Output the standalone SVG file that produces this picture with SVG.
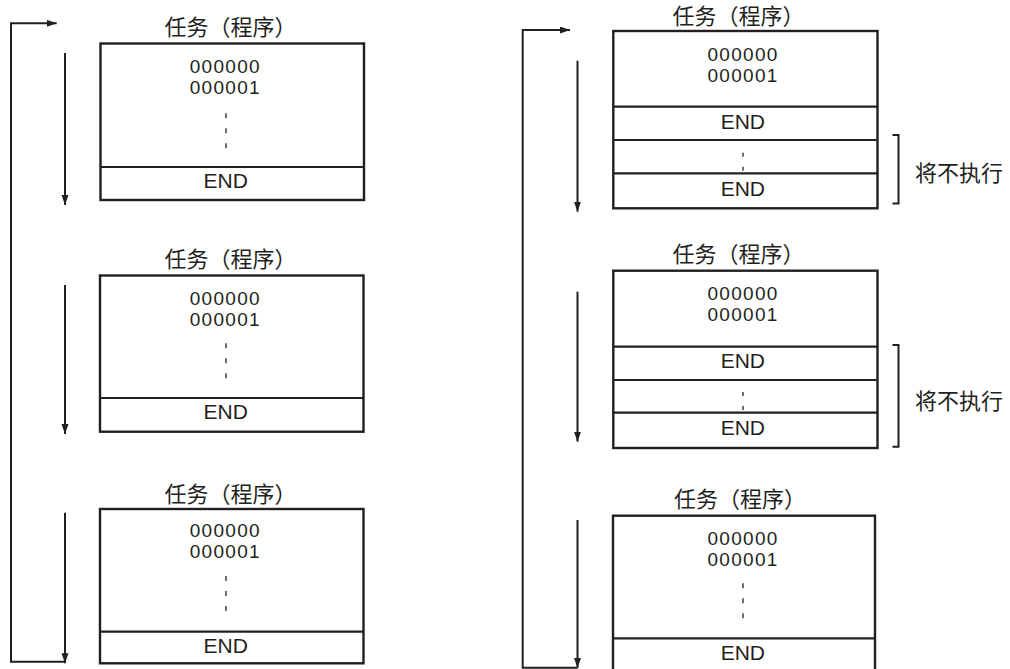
<svg xmlns="http://www.w3.org/2000/svg" width="1010" height="669" viewBox="0 0 1010 669">
  <style>
    .box { fill: #ffffff; stroke: #231f20; stroke-width: 2.4; }
    .div { stroke: #231f20; stroke-width: 2.2; fill: none; }
    .dots { stroke: #231f20; stroke-width: 1.3; stroke-dasharray: 5 10; fill: none; }
    .dots2 { stroke: #231f20; stroke-width: 1.3; stroke-dasharray: 4 10; fill: none; }
    .num { font-family: "Liberation Sans", Arial, sans-serif; font-size: 21px; fill: #231f20; text-anchor: middle; }
    .addr { font-family: "Liberation Sans", Arial, sans-serif; font-size: 19px; letter-spacing: 1.3px; fill: #231f20; text-anchor: middle; }
    .cjk { font-family: "Noto Sans CJK SC", "Noto Sans", sans-serif; font-size: 22px; fill: #231f20; }
    .title { text-anchor: middle; }
    .conn { stroke: #231f20; stroke-width: 2; fill: none; }
    .brk { stroke: #231f20; stroke-width: 2; fill: none; }
  </style>
  <defs>
    <marker id="arr" markerUnits="userSpaceOnUse" markerWidth="11" markerHeight="8" refX="10" refY="3.5" orient="auto">
      <path d="M0,0 L10,3.5 L0,7 z" fill="#231f20"/>
    </marker>
  </defs>

  <g id="connectors">
    <polyline class="conn" points="65,661.7 11,661.7 11,23.3 56.7,23.3" marker-end="url(#arr)"/>
    <line class="conn" x1="65" y1="53" x2="65" y2="205" marker-end="url(#arr)"/>
    <line class="conn" x1="65" y1="285" x2="65" y2="434" marker-end="url(#arr)"/>
    <line class="conn" x1="65" y1="512.7" x2="65" y2="663.3" marker-end="url(#arr)"/>
    <polyline class="conn" points="577.5,667.7 522.7,667.7 522.7,30 570,30" marker-end="url(#arr)"/>
    <line class="conn" x1="577.5" y1="60.7" x2="577.5" y2="211.7" marker-end="url(#arr)"/>
    <line class="conn" x1="577.5" y1="291.7" x2="577.5" y2="441.7" marker-end="url(#arr)"/>
    <line class="conn" x1="577.5" y1="520" x2="577.5" y2="668" marker-end="url(#arr)"/>
  </g>

  <g id="taskL1">
    <text class="cjk title" x="230.5" y="35">任务（程序）</text>
    <rect class="box" x="100.5" y="43.5" width="263.5" height="156.5"/>
    <text class="addr" x="225.3" y="72.5">000000</text>
    <text class="addr" x="225.3" y="94">000001</text>
    <line class="dots" x1="226" y1="113.3" x2="226" y2="148.3"/>
    <line class="div" x1="100.5" y1="167" x2="364" y2="167"/>
    <text class="num" x="225.7" y="188.3">END</text>
  </g>

  <g id="taskL2">
    <text class="cjk title" x="230.5" y="267">任务（程序）</text>
    <rect class="box" x="100" y="275.5" width="263.5" height="156.2"/>
    <text class="addr" x="225.3" y="304.5">000000</text>
    <text class="addr" x="225.3" y="326">000001</text>
    <line class="dots" x1="226" y1="343.3" x2="226" y2="378.3"/>
    <line class="div" x1="100" y1="398" x2="363.5" y2="398"/>
    <text class="num" x="225.7" y="418.5">END</text>
  </g>

  <g id="taskL3">
    <text class="cjk title" x="230.5" y="501.5">任务（程序）</text>
    <rect class="box" x="100" y="509" width="263.5" height="154.3"/>
    <text class="addr" x="225.3" y="536.5">000000</text>
    <text class="addr" x="225.3" y="558">000001</text>
    <line class="dots" x1="226" y1="576" x2="226" y2="611"/>
    <line class="div" x1="100" y1="631.7" x2="363.5" y2="631.7"/>
    <text class="num" x="225.7" y="652.5">END</text>
  </g>

  <g id="taskR1">
    <text class="cjk title" x="738.5" y="24">任务（程序）</text>
    <rect class="box" x="613.3" y="31" width="264.2" height="177.3"/>
    <text class="addr" x="743.1" y="60.5">000000</text>
    <text class="addr" x="743.1" y="82">000001</text>
    <line class="div" x1="613.3" y1="106.7" x2="877.5" y2="106.7"/>
    <text class="num" x="742.8" y="128.5">END</text>
    <line class="div" x1="613.3" y1="140" x2="877.5" y2="140"/>
    <line class="dots2" x1="743" y1="152.7" x2="743" y2="170.7"/>
    <line class="div" x1="613.3" y1="173.3" x2="877.5" y2="173.3"/>
    <text class="num" x="742.8" y="195.5">END</text>
  </g>
  <g id="noteR1">
    <polyline class="brk" points="892.5,135 898.5,135 898.5,203.5 892.5,203.5"/>
    <text class="cjk" x="915" y="181">将不执行</text>
  </g>

  <g id="taskR2">
    <text class="cjk title" x="738.5" y="262">任务（程序）</text>
    <rect class="box" x="613.3" y="270.7" width="264.2" height="177.3"/>
    <text class="addr" x="743.1" y="299.7">000000</text>
    <text class="addr" x="743.1" y="321.2">000001</text>
    <line class="div" x1="613.3" y1="346.7" x2="877.5" y2="346.7"/>
    <text class="num" x="742.8" y="368">END</text>
    <line class="div" x1="613.3" y1="380" x2="877.5" y2="380"/>
    <line class="dots2" x1="743" y1="392" x2="743" y2="410"/>
    <line class="div" x1="613.3" y1="412.7" x2="877.5" y2="412.7"/>
    <text class="num" x="742.8" y="435">END</text>
  </g>
  <g id="noteR2">
    <polyline class="brk" points="892.5,345 898.5,345 898.5,446.7 892.5,446.7"/>
    <text class="cjk" x="915" y="408.5">将不执行</text>
  </g>

  <g id="taskR3">
    <text class="cjk title" x="740" y="507">任务（程序）</text>
    <rect class="box" x="613" y="515.7" width="262" height="156"/>
    <text class="addr" x="743.1" y="544.5">000000</text>
    <text class="addr" x="743.1" y="566">000001</text>
    <line class="dots" x1="743" y1="583.3" x2="743" y2="620"/>
    <line class="div" x1="613" y1="638.3" x2="875" y2="638.3"/>
    <text class="num" x="742.8" y="660">END</text>
  </g>
</svg>
